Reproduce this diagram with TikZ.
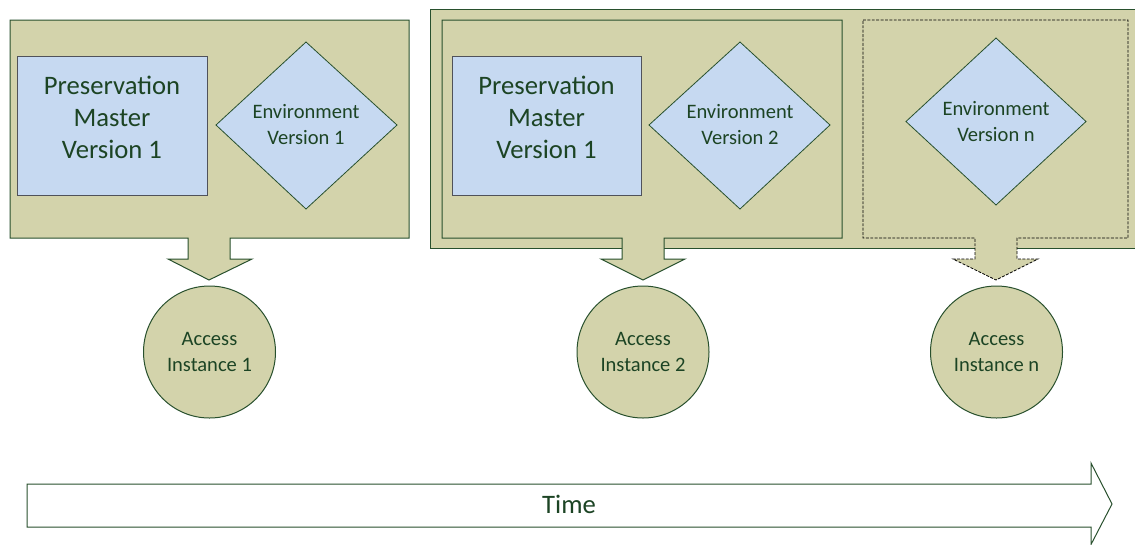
\documentclass[tikz,border=0pt]{standalone}
\usepackage{fontspec}
\setmainfont{Carlito}
\definecolor{boxfill}{RGB}{211,211,171}
\definecolor{bluefill}{RGB}{198,217,241}
\definecolor{edgegreen}{RGB}{40,80,45}
\definecolor{txtgreen}{RGB}{28,68,36}
\definecolor{edgegray}{RGB}{80,82,90}
\tikzset{
  olivebox/.style={fill=boxfill, draw=edgegreen, line width=0.75pt, line join=miter},
  dashbox/.style={fill=boxfill, draw=black, line width=0.6pt, dash pattern=on 2.2pt off 1.1pt},
  masterbox/.style={fill=bluefill, draw=edgegray, line width=0.65pt},
  envshape/.style={fill=bluefill, draw=edgegreen, line width=0.6pt},
  bigtext/.style={text=txtgreen, align=center, font=\fontsize{20}{24}\selectfont, inner sep=0pt},
  smalltext/.style={text=txtgreen, align=center, font=\fontsize{15.4}{18.8}\selectfont, inner sep=0pt},
  access/.style={circle, fill=boxfill, draw=edgegreen, line width=0.75pt, minimum size=99pt, inner sep=0pt,
                 text=txtgreen, align=center, font=\fontsize{15.4}{18.8}\selectfont},
  timearrow/.style={fill=white, draw=edgegreen, line width=0.75pt}
}
\begin{document}
\begin{tikzpicture}[x=0.75pt,y=-0.75pt]
\useasboundingbox (0,0) rectangle (1135,544);

% ---------- first group ----------
\draw[olivebox] (10,20) -- (409,20) -- (409,238) -- (230,238) -- (230,259) -- (252,259)
  -- (209,280) -- (168,259) -- (188,259) -- (188,238) -- (10,238) -- cycle;
\draw[masterbox] (17,56) rectangle (207,195);
\node[bigtext] (pm1) at (112,117) {Preservation\\Master\\Version 1};
\draw[envshape] (306,42) -- (397,125) -- (306,209) -- (216,125) -- cycle;
\node[smalltext] (env1) at (306,124.5) {Environment\\Version 1};
\node[access] (acc1) at (209.5,352) {Access\\Instance 1};

% ---------- second group ----------
\fill[boxfill] (430,9) rectangle (1140,248);
\draw[edgegreen, line width=0.75pt, line join=miter] (1140,9) -- (430,9) -- (430,248) -- (1140,248);
\draw[olivebox] (442,20) -- (842,20) -- (842,238) -- (664,238) -- (664,259) -- (685,259)
  -- (643,280) -- (601,259) -- (622,259) -- (622,238) -- (442,238) -- cycle;
\draw[masterbox] (452,56) rectangle (641,195);
\node[bigtext] (pm2) at (546.5,117) {Preservation\\Master\\Version 1};
\draw[envshape] (740,42) -- (830,125) -- (740,209) -- (649,125) -- cycle;
\node[smalltext] (env2) at (740,124.5) {Environment\\Version 2};
\node[access] (acc2) at (643,352) {Access\\Instance 2};

\draw[dashbox] (863,20) -- (1128,20) -- (1128,238) -- (1017,238) -- (1017,259) -- (1038,259)
  -- (996,280) -- (953,259) -- (975,259) -- (975,238) -- (863,238) -- cycle;
\draw[envshape] (996,38) -- (1086,121.5) -- (996,205) -- (906,121.5) -- cycle;
\node[smalltext] (envn) at (996,121.5) {Environment\\Version n};
\node[access] (accn) at (996.5,352) {Access\\Instance n};

% ---------- time arrow ----------
\draw[timearrow] (27,484) -- (1091,484) -- (1091,463) -- (1112,504) -- (1091,544.5)
  -- (1091,527) -- (27,527) -- cycle;
\node[bigtext] (time) at (569,504) {Time};
\end{tikzpicture}
\end{document}
